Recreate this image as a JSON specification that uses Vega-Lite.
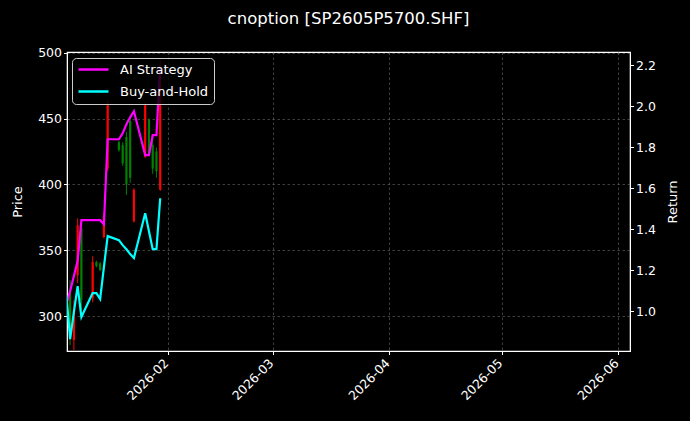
{
  "$schema": "https://vega.github.io/schema/vega-lite/v6.json",
  "autosize": {"type": "none"},
  "padding": {"left": 67, "top": 52, "right": 60, "bottom": 70},
  "width": 563,
  "height": 299,
  "background": "black",
  "title": {
    "text": "cnoption [SP2605P5700.SHF]",
    "color": "white",
    "font": "DejaVu Sans",
    "fontSize": 16.5,
    "fontWeight": "normal",
    "anchor": "middle",
    "frame": "group",
    "baseline": "alphabetic",
    "offset": 6
  },
  "data": {
    "values": [
      {"date": "2026-01-05", "open": 300, "high": 304, "low": 298, "close": 302, "ai": 1.034, "bh": 1.078},
      {"date": "2026-01-06", "open": 319.7, "high": 327.3, "low": 278.0, "close": 285.6, "ai": 1.098, "bh": 0.863},
      {"date": "2026-01-07", "open": 281.8, "high": 312.1, "low": 274.2, "close": 304.5, "ai": 1.171, "bh": 0.995},
      {"date": "2026-01-08", "open": 331.1, "high": 374.2, "low": 325.0, "close": 368.9, "ai": 1.244, "bh": 1.122},
      {"date": "2026-01-09", "open": 366.7, "high": 372.0, "low": 304.5, "close": 312.1, "ai": 1.444, "bh": 0.971},
      {"date": "2026-01-12", "open": 313.6, "high": 345.5, "low": 310.6, "close": 340.9, "ai": 1.444, "bh": 1.088},
      {"date": "2026-01-13", "open": 341, "high": 342, "low": 337, "close": 338, "ai": 1.444, "bh": 1.088},
      {"date": "2026-01-14", "open": 340, "high": 341, "low": 334, "close": 335, "ai": 1.444, "bh": 1.059},
      {"date": "2026-01-15", "open": 360, "high": 378, "low": 359, "close": 376, "ai": 1.424, "bh": 1.215},
      {"date": "2026-01-16", "open": 412, "high": 464, "low": 410, "close": 460, "ai": 1.839, "bh": 1.366},
      {"date": "2026-01-19", "open": 432, "high": 433, "low": 425, "close": 426, "ai": 1.839, "bh": 1.346},
      {"date": "2026-01-20", "open": 430, "high": 432, "low": 414, "close": 416, "ai": 1.868, "bh": 1.322},
      {"date": "2026-01-21", "open": 436, "high": 440, "low": 392, "close": 400, "ai": 1.912, "bh": 1.302},
      {"date": "2026-01-22", "open": 448, "high": 452, "low": 401, "close": 405, "ai": 1.946, "bh": 1.278},
      {"date": "2026-01-23", "open": 372, "high": 397, "low": 371, "close": 396, "ai": 1.976, "bh": 1.259},
      {"date": "2026-01-26", "open": 421, "high": 462, "low": 420, "close": 460, "ai": 1.761, "bh": 1.478},
      {"date": "2026-01-27", "open": 449, "high": 450, "low": 422, "close": 423, "ai": 1.761, "bh": 1.390},
      {"date": "2026-01-28", "open": 430, "high": 436, "low": 408, "close": 412, "ai": 1.859, "bh": 1.302},
      {"date": "2026-01-29", "open": 425, "high": 428, "low": 405, "close": 410, "ai": 1.859, "bh": 1.302},
      {"date": "2026-01-30", "open": 396, "high": 494, "low": 395, "close": 490, "ai": 2.195, "bh": 1.551}
    ]
  },
  "encoding": {
    "x": {
      "field": "date",
      "type": "temporal",
      "title": null,
      "scale": {
        "domain": [
          {"year": 2026, "month": "jan", "date": 5, "hours": 4},
          {"year": 2026, "month": "jun", "date": 4, "hours": 4}
        ]
      },
      "axis": {
        "values": [
          {"year": 2026, "month": "feb", "date": 1},
          {"year": 2026, "month": "mar", "date": 1},
          {"year": 2026, "month": "apr", "date": 1},
          {"year": 2026, "month": "may", "date": 1},
          {"year": 2026, "month": "jun", "date": 1}
        ],
        "format": "%Y-%m",
        "labelAngle": -45,
        "labelAlign": "right",
        "labelBaseline": "top",
        "labelPadding": 2,
        "labelOffset": -6
      }
    }
  },
  "layer": [
    {
      "layer": [
        {
          "mark": {"type": "rule", "strokeWidth": 1, "clip": true},
          "encoding": {
            "y": {
              "field": "low",
              "type": "quantitative",
              "title": "Price",
              "scale": {"domain": [273.5, 500.5], "nice": false, "zero": false},
              "axis": {"orient": "left", "values": [300, 350, 400, 450, 500], "titlePadding": 13}
            },
            "y2": {"field": "high"},
            "color": {"condition": {"test": "datum.close >= datum.open", "value": "red"}, "value": "green"}
          }
        },
        {
          "mark": {"type": "rule", "strokeWidth": 2.2, "clip": true},
          "encoding": {
            "y": {"field": "open", "type": "quantitative"},
            "y2": {"field": "close"},
            "color": {"condition": {"test": "datum.close >= datum.open", "value": "red"}, "value": "green"}
          }
        }
      ]
    },
    {
      "layer": [
        {
          "mark": {"type": "line", "strokeWidth": 2.2, "clip": true},
          "encoding": {
            "y": {
              "field": "ai",
              "type": "quantitative",
              "title": "Return",
              "scale": {"domain": [0.805, 2.265], "nice": false, "zero": false},
              "axis": {"orient": "right", "values": [1.0, 1.2, 1.4, 1.6, 1.8, 2.0, 2.2], "format": ".1f", "titleAngle": -90, "titlePadding": 24}
            },
            "color": {
              "datum": "AI Strategy",
              "scale": {"domain": ["AI Strategy", "Buy-and-Hold"], "range": ["#ff00ff", "#00ffff"]},
              "legend": {
                "title": null,
                "orient": "none",
                "legendX": 5,
                "legendY": 6,
                "symbolType": "M-1,0H5",
                "symbolSize": 100,
                "symbolStrokeWidth": 2.5,
                "labelFontSize": 13,
                "labelColor": "white",
                "labelFont": "DejaVu Sans",
                "labelOffset": 30,
                "fillColor": "rgba(0,0,0,0.8)",
                "strokeColor": "#cccccc",
                "cornerRadius": 4,
                "padding": 5,
                "rowPadding": 8
              }
            }
          }
        },
        {
          "mark": {"type": "line", "strokeWidth": 2.2, "clip": true},
          "encoding": {
            "y": {"field": "bh", "type": "quantitative"},
            "color": {"datum": "Buy-and-Hold"}
          }
        }
      ]
    }
  ],
  "resolve": {"scale": {"y": "independent"}},
  "config": {
    "font": "DejaVu Sans",
    "view": {"stroke": "white", "strokeWidth": 1.2},
    "axis": {
      "domainColor": "white",
      "tickColor": "white",
      "tickSize": 3.5,
      "labelColor": "white",
      "labelFont": "DejaVu Sans",
      "labelFontSize": 12.5,
      "titleColor": "white",
      "titleFont": "DejaVu Sans",
      "titleFontSize": 13,
      "titleFontWeight": "normal",
      "gridColor": "#6a6a6a",
      "gridDash": [2.5, 2.5],
      "gridWidth": 0.6
    }
  }
}
